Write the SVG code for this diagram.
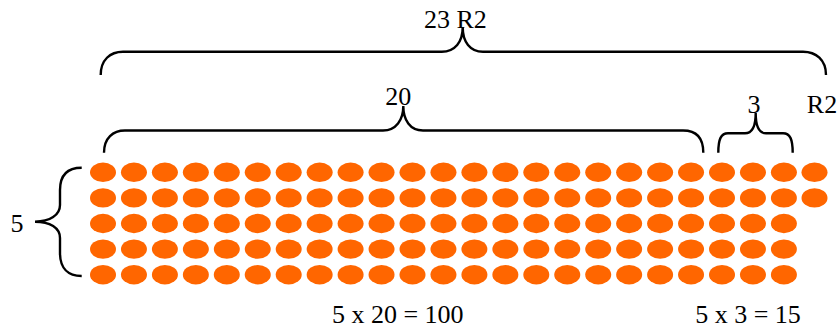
<svg xmlns="http://www.w3.org/2000/svg" xmlns:xlink="http://www.w3.org/1999/xlink" width="839" height="331" viewBox="0 0 839 331">
<style>
.t{font-family:"Liberation Serif","Times New Roman",serif;font-size:26px;fill:#000;text-anchor:middle}
.b{fill:none;stroke:#000;stroke-width:2.4;stroke-linecap:butt}
.d{fill:#FF6600}
</style>
<defs>
<ellipse id="dot" class="d" cx="0" cy="0" rx="13" ry="9.7"/>
<g id="row">
<use xlink:href="#dot" x="103" y="0"/>
<use xlink:href="#dot" x="133.95" y="0"/>
<use xlink:href="#dot" x="164.9" y="0"/>
<use xlink:href="#dot" x="195.85" y="0"/>
<use xlink:href="#dot" x="226.8" y="0"/>
<use xlink:href="#dot" x="257.75" y="0"/>
<use xlink:href="#dot" x="288.7" y="0"/>
<use xlink:href="#dot" x="319.65" y="0"/>
<use xlink:href="#dot" x="350.6" y="0"/>
<use xlink:href="#dot" x="381.55" y="0"/>
<use xlink:href="#dot" x="412.5" y="0"/>
<use xlink:href="#dot" x="443.45" y="0"/>
<use xlink:href="#dot" x="474.4" y="0"/>
<use xlink:href="#dot" x="505.35" y="0"/>
<use xlink:href="#dot" x="536.3" y="0"/>
<use xlink:href="#dot" x="567.25" y="0"/>
<use xlink:href="#dot" x="598.2" y="0"/>
<use xlink:href="#dot" x="629.15" y="0"/>
<use xlink:href="#dot" x="660.1" y="0"/>
<use xlink:href="#dot" x="691.05" y="0"/>
<use xlink:href="#dot" x="722" y="0"/>
<use xlink:href="#dot" x="752.95" y="0"/>
<use xlink:href="#dot" x="783.9" y="0"/>
</g>
</defs>
<rect width="839" height="331" fill="#fff"/>
<g id="dots">
<use xlink:href="#row" y="172.3"/>
<use xlink:href="#row" y="197.9"/>
<use xlink:href="#row" y="223.5"/>
<use xlink:href="#row" y="249.1"/>
<use xlink:href="#row" y="274.7"/>
<use xlink:href="#dot" x="814.5" y="172.3"/>
<use xlink:href="#dot" x="814.5" y="197.9"/>
</g>
<g id="braces">
<path class="b" d="M100.7,75 C100.7,60 110,51.7 123,51.7 L441.7,51.7 C455,51.7 462.7,42 462.7,27 C462.7,42 470,51.7 483,51.7 L803,51.7 C816,51.7 826,60 826,75"/>
<path class="b" d="M104,152.7 C104,138 113,130.5 125,130.5 L383,130.5 C396,130.5 403.3,120 403.3,106 C403.3,120 410,130.5 423,130.5 L683,130.5 C696,130.5 703.3,138 703.3,152.7"/>
<path class="b" d="M718.3,152.7 C718.3,139 721,133.3 728,133.3 L745,133.3 C752,133.3 755.7,126 755.7,113 C755.7,126 759,133.3 766,133.3 L783,133.3 C790,133.3 792.7,139 792.7,152.7"/>
<path class="b" d="M81.7,167.7 C68,167.7 60,175 60,190 L60,205 C60,215 50,221.7 35,221.7 C50,221.7 60,228 60,238 L60,253 C60,268 68,276 81.7,276"/>
</g>
<g id="labels">
<text class="t" x="455.3" y="27.5">23 R2</text>
<text class="t" x="398.3" y="105">20</text>
<text class="t" x="754" y="113">3</text>
<text class="t" x="822" y="113">R2</text>
<text class="t" x="17" y="231.7">5</text>
<text class="t" x="397.8" y="322.7">5 x 20 = 100</text>
<text class="t" x="748" y="322.7">5 x 3 = 15</text>
</g>
</svg>
